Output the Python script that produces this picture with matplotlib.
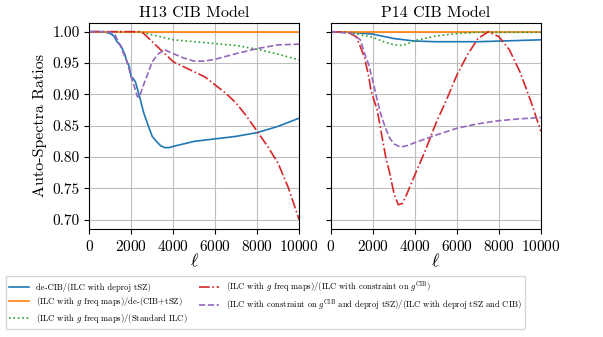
import matplotlib
matplotlib.use("Agg")
import matplotlib.pyplot as plt
from matplotlib.ticker import FormatStrFormatter

plt.rcParams["font.family"] = "serif"
plt.rcParams["font.serif"] = ["cmr10"]
plt.rcParams["mathtext.fontset"] = "cm"
plt.rcParams["axes.formatter.use_mathtext"] = True

# ---- H13 CIB model ----
h_blue_l = [0, 500, 800, 1000, 1100, 1200, 1300, 1400, 1500, 1600, 1700, 1800, 1900, 2000, 2100, 2200,
            2300, 2400, 2600, 2800, 3000, 3200, 3400, 3600, 3800, 4000, 5000, 6000, 7000, 8000, 9000, 10000]
h_blue = [1.0, 1.0, 0.999, 0.997, 0.995, 0.992, 0.985, 0.981, 0.978, 0.971, 0.963, 0.952, 0.945, 0.928, 0.925,
          0.920, 0.908, 0.896, 0.870, 0.851, 0.833, 0.825, 0.818, 0.815, 0.815, 0.817, 0.825, 0.829, 0.833,
          0.839, 0.849, 0.862]

h_orange_l = [0, 10000]
h_orange = [1.0, 1.0]

h_green_l = [0, 2400, 3000, 4000, 5000, 6000, 7000, 8000, 9000, 10000]
h_green = [1.0, 1.0, 0.995, 0.987, 0.984, 0.981, 0.978, 0.972, 0.964, 0.955]

h_red_l = [0, 2400, 2600, 3000, 3500, 4000, 4500, 5000, 5500, 6000, 6500, 7000, 7500, 8000, 8500,
           9000, 9500, 10000]
h_red = [1.0, 1.0, 0.997, 0.984, 0.968, 0.952, 0.944, 0.936, 0.928, 0.915, 0.902, 0.886, 0.865, 0.841,
         0.817, 0.790, 0.750, 0.700]

h_purple_l = [0, 800, 1000, 1200, 1500, 1800, 2000, 2200, 2300, 2400, 2500, 2800, 3000, 3300, 3600,
              4000, 4500, 5000, 5500, 6000, 7000, 8000, 9000, 10000]
h_purple = [1.0, 1.0, 0.999, 0.997, 0.976, 0.952, 0.928, 0.907, 0.896, 0.896, 0.907, 0.934, 0.952,
            0.965, 0.971, 0.965, 0.958, 0.953, 0.953, 0.956, 0.965, 0.973, 0.979, 0.980]

# ---- P14 CIB model ----
p_blue_l = [0, 1000, 2000, 3000, 4000, 5000, 6000, 7000, 8000, 9000, 10000]
p_blue = [1.0, 0.999, 0.996, 0.989, 0.985, 0.984, 0.984, 0.984, 0.985, 0.986, 0.987]

p_orange_l = [0, 10000]
p_orange = [1.0, 1.0]

p_green_l = [0, 1000, 2000, 2500, 3000, 3300, 3600, 4000, 5000, 6000, 7000, 8000, 10000]
p_green = [1.0, 0.998, 0.991, 0.984, 0.979, 0.978, 0.980, 0.986, 0.993, 0.997, 0.999, 0.999, 0.999]

p_red_l = [0, 800, 1200, 1400, 1600, 1800, 1900, 2000, 2200, 2400, 2600, 2800, 3000, 3200, 3400,
           3600, 3800, 4000, 4500, 5000, 5500, 6000, 6500, 7000, 7500, 8000, 8500, 9000, 9500, 10000]
p_red = [1.0, 0.999, 0.992, 0.976, 0.958, 0.928, 0.907, 0.896, 0.875, 0.838, 0.801, 0.774, 0.742,
         0.724, 0.726, 0.740, 0.756, 0.772, 0.811, 0.854, 0.891, 0.931, 0.963, 0.989, 1.000, 0.992,
         0.971, 0.936, 0.891, 0.841]

p_purple_l = [0, 1000, 1400, 1600, 1800, 2000, 2200, 2400, 2600, 2800, 3000, 3300, 3600, 4000, 5000,
              6000, 7000, 8000, 9000, 10000]
p_purple = [1.0, 0.997, 0.987, 0.965, 0.947, 0.920, 0.891, 0.865, 0.846, 0.830, 0.821, 0.816, 0.818,
            0.823, 0.835, 0.846, 0.853, 0.858, 0.861, 0.863]

labels = [
    r"de-CIB/(ILC with deproj tSZ)",
    r"(ILC with $g$ freq maps)/de-(CIB+tSZ)",
    r"(ILC with $g$ freq maps)/(Standard ILC)",
    r"(ILC with $g$ freq maps)/(ILC with constraint on $g^{\rm CIB}$)",
    r"(ILC with constraint on $g^{\rm CIB}$ and deproj tSZ)/(ILC with deproj tSZ and CIB)",
]

fig, axes = plt.subplots(1, 2, figsize=(6.03, 3.37), dpi=100, sharey=True)
fig.subplots_adjust(left=0.148, right=0.897, top=0.933, bottom=0.321, wspace=0.152)

panels = [
    ("H13 CIB Model", h_blue_l, h_blue, h_orange_l, h_orange, h_green_l, h_green,
     h_red_l, h_red, h_purple_l, h_purple),
    ("P14 CIB Model", p_blue_l, p_blue, p_orange_l, p_orange, p_green_l, p_green,
     p_red_l, p_red, p_purple_l, p_purple),
]

for ax, p in zip(axes, panels):
    title, bl, b, ol, o, gl, g, rl, r, ul, u = p
    ax.plot(bl, b, color="C0", lw=1.2, label=labels[0])
    ax.plot(ol, o, color="C1", lw=1.2, label=labels[1])
    ax.plot(gl, g, color="C2", lw=1.2, ls=":", label=labels[2])
    ax.plot(rl, r, color="C3", lw=1.2, ls="-.", label=labels[3])
    ax.plot(ul, u, color="C4", lw=1.2, ls="--", label=labels[4])
    ax.set_title(title, fontsize=11.5, pad=4)
    ax.set_xlim(0, 10000)
    ax.set_xticks([0, 2000, 4000, 6000, 8000, 10000])
    ax.set_xlabel(r"$\ell$", fontsize=13, labelpad=-1)
    ax.grid(True, color="0.75", lw=0.8)
    ax.tick_params(labelsize=11)

axes[0].set_ylim(0.6855, 1.0145)
axes[0].set_yticks([0.70, 0.75, 0.80, 0.85, 0.90, 0.95, 1.00])
axes[0].yaxis.set_major_formatter(FormatStrFormatter("%.2f"))
axes[0].set_ylabel("Auto-Spectra Ratios", fontsize=11.5)

handles, labs = axes[0].get_legend_handles_labels()
fig.legend(handles, labs, loc="lower left", bbox_to_anchor=(0.002, 0.012), ncol=2, fontsize=6.2,
           labelspacing=0.4, handlelength=2.3, columnspacing=1.3, borderpad=0.45,
           frameon=True, framealpha=0.8, edgecolor="0.8")

fig.savefig("out.png", dpi=100)
